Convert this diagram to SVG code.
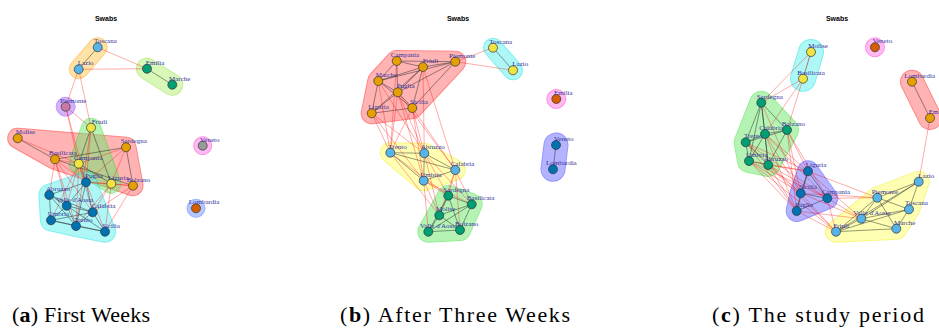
<svg xmlns="http://www.w3.org/2000/svg" width="939" height="329" viewBox="0 0 939 329">
<style>
.h{opacity:.5}
.h *{stroke-linejoin:round;stroke-linecap:round}
.red .o{fill:#ff1010;stroke:#ff1010}.red .i{fill:#ff6a6a;stroke:#ff6a6a}
.org .o{fill:#ffa000;stroke:#ffa000}.org .i{fill:#ffc850;stroke:#ffc850}
.lgr .o{fill:#80e030;stroke:#80e030}.lgr .i{fill:#b4f070;stroke:#b4f070}
.grn .o{fill:#30e030;stroke:#30e030}.grn .i{fill:#6ee86e;stroke:#6ee86e}
.pur .o{fill:#9030ff;stroke:#9030ff}.pur .i{fill:#a868f8;stroke:#a868f8}
.cyn .o{fill:#00e0e0;stroke:#00e0e0}.cyn .i{fill:#5ff0f0;stroke:#5ff0f0}
.pnk .o{fill:#ff20d0;stroke:#ff20d0}.pnk .i{fill:#ff78e6;stroke:#ff78e6}
.blu .o{fill:#3030ff;stroke:#3030ff}.blu .i{fill:#6a6aff;stroke:#6a6aff}
.bla .o{fill:#3a6aff;stroke:#3a6aff}.bla .i{fill:#7090ff;stroke:#7090ff}
.yel .o{fill:#f0f000;stroke:#f0f000}.yel .i{fill:#ffff6a;stroke:#ffff6a}
.k{stroke:#222;stroke-width:.55;opacity:.85}
.r{stroke:#ff0000;stroke-width:.55;opacity:.6}
.dr{stroke:#b02020;stroke-width:.6}
.n{stroke:#333;stroke-width:.7}
.lb{font-family:"Liberation Serif",serif;font-size:7px;fill:#35359a}
.tt{font-family:"Liberation Sans",sans-serif;font-size:7px;font-weight:bold;fill:#000;text-anchor:middle}
.cap{font-family:"Liberation Serif",serif;font-size:22px;fill:#000}
</style>
<rect width="939" height="329" fill="#fff"/>
<text class="tt" x="106" y="21">Swabs</text>
<text class="tt" x="458" y="21">Swabs</text>
<text class="tt" x="837" y="21">Swabs</text>

<g id="hulls">
<g class="h org"><polyline class="o" points="97.7,47.3 78.7,69.3" stroke-width="20"/><polyline class="i" points="97.7,47.3 78.7,69.3" stroke-width="18"/></g>
<g class="h lgr"><polyline class="o" points="147,68.7 172.3,84.7" stroke-width="22"/><polyline class="i" points="147,68.7 172.3,84.7" stroke-width="20"/></g>
<g class="h pur"><circle class="o" cx="65.7" cy="106.7" r="9.5"/><circle class="i" cx="65.7" cy="106.7" r="8.5"/></g>
<g class="h red"><polygon class="o" points="17.7,138.3 126,147.3 133,185.7 55,159.3" stroke-width="21"/><polygon class="i" points="17.7,138.3 126,147.3 133,185.7 55,159.3" stroke-width="19"/></g>
<g class="h grn"><polygon class="o" points="91,127.7 111.3,183.7 78.7,163.7" stroke-width="20"/><polygon class="i" points="91,127.7 111.3,183.7 78.7,163.7" stroke-width="18"/></g>
<g class="h cyn"><polygon class="o" points="86,182.3 105,231.7 76,226 51,220.3 49.3,195" stroke-width="22"/><polygon class="i" points="86,182.3 105,231.7 76,226 51,220.3 49.3,195" stroke-width="20"/></g>
<g class="h pnk"><circle class="o" cx="202.7" cy="145.7" r="9"/><circle class="i" cx="202.7" cy="145.7" r="8"/></g>
<g class="h bla"><circle class="o" cx="196" cy="208.3" r="9"/><circle class="i" cx="196" cy="208.3" r="8"/></g>
<g class="h red"><polygon class="o" points="396.7,61 455.3,61.7 412.3,108 371.7,113.3 378.3,81" stroke-width="22"/><polygon class="i" points="396.7,61 455.3,61.7 412.3,108 371.7,113.3 378.3,81" stroke-width="20"/></g>
<g class="h cyn"><polyline class="o" points="493,47.7 513,70.3" stroke-width="20"/><polyline class="i" points="493,47.7 513,70.3" stroke-width="18"/></g>
<g class="h pnk"><circle class="o" cx="556.3" cy="99" r="9.5"/><circle class="i" cx="556.3" cy="99" r="8.5"/></g>
<g class="h blu"><polyline class="o" points="556,145 553,169.3" stroke-width="25"/><polyline class="i" points="556,145 553,169.3" stroke-width="23"/></g>
<g class="h yel"><polygon class="o" points="390.3,152.7 424.3,153.3 455.3,170 423.7,180.7" stroke-width="21"/><polygon class="i" points="390.3,152.7 424.3,153.3 455.3,170 423.7,180.7" stroke-width="19"/></g>
<g class="h grn"><polygon class="o" points="448.3,195.7 471.7,204.3 460,230 428.3,231.7" stroke-width="22"/><polygon class="i" points="448.3,195.7 471.7,204.3 460,230 428.3,231.7" stroke-width="20"/></g>
<g class="h cyn"><polyline class="o" points="811,52 803,78.7" stroke-width="26"/><polyline class="i" points="811,52 803,78.7" stroke-width="24"/></g>
<g class="h pnk"><circle class="o" cx="875" cy="47.3" r="9.5"/><circle class="i" cx="875" cy="47.3" r="8.5"/></g>
<g class="h red"><polyline class="o" points="912,81.7 930,118" stroke-width="24"/><polyline class="i" points="912,81.7 930,118" stroke-width="22"/></g>
<g class="h grn"><polygon class="o" points="761.3,102.7 787,130 768.3,165 749,161 745.7,142.3" stroke-width="24"/><polygon class="i" points="761.3,102.7 787,130 768.3,165 749,161 745.7,142.3" stroke-width="22"/></g>
<g class="h blu"><polygon class="o" points="808,171.3 827.3,198.3 796.7,211 800.7,193.3" stroke-width="22"/><polygon class="i" points="808,171.3 827.3,198.3 796.7,211 800.7,193.3" stroke-width="20"/></g>
<g class="h yel"><polygon class="o" points="918.7,181.7 909,209.3 896.3,228.7 836,231.7 877.3,197.7" stroke-width="22"/><polygon class="i" points="918.7,181.7 909,209.3 896.3,228.7 836,231.7 877.3,197.7" stroke-width="20"/></g>
</g>

<g id="connectors">
<line class="k" x1="97.7" y1="47.3" x2="78.7" y2="69.3"/>
<line class="k" x1="147" y1="68.7" x2="172.3" y2="84.7"/>
<line class="k" x1="17.7" y1="138.3" x2="55" y2="159.3"/>
<line class="k" x1="55" y1="159.3" x2="126" y2="147.3"/>
<line class="k" x1="55" y1="159.3" x2="133" y2="185.7"/>
<line class="k" x1="126" y1="147.3" x2="133" y2="185.7"/>
<line class="k" x1="91" y1="127.7" x2="78.7" y2="163.7"/>
<line class="k" x1="91" y1="127.7" x2="111.3" y2="183.7"/>
<line class="k" x1="78.7" y1="163.7" x2="111.3" y2="183.7"/>
<line class="k" x1="86" y1="182.3" x2="49.3" y2="195"/>
<line class="k" x1="86" y1="182.3" x2="66.7" y2="205.7"/>
<line class="k" x1="86" y1="182.3" x2="92.7" y2="212.3"/>
<line class="k" x1="86" y1="182.3" x2="76" y2="226"/>
<line class="k" x1="49.3" y1="195" x2="66.7" y2="205.7"/>
<line class="k" x1="49.3" y1="195" x2="51" y2="220.3"/>
<line class="k" x1="49.3" y1="195" x2="76" y2="226"/>
<line class="k" x1="49.3" y1="195" x2="92.7" y2="212.3"/>
<line class="k" x1="66.7" y1="205.7" x2="92.7" y2="212.3"/>
<line class="k" x1="66.7" y1="205.7" x2="51" y2="220.3"/>
<line class="k" x1="66.7" y1="205.7" x2="76" y2="226"/>
<line class="k" x1="66.7" y1="205.7" x2="105" y2="231.7"/>
<line class="k" x1="92.7" y1="212.3" x2="76" y2="226"/>
<line class="k" x1="92.7" y1="212.3" x2="105" y2="231.7"/>
<line class="k" x1="51" y1="220.3" x2="76" y2="226"/>
<line class="k" x1="51" y1="220.3" x2="92.7" y2="212.3"/>
<line class="k" x1="76" y1="226" x2="105" y2="231.7"/>
<line class="k" x1="51" y1="220.3" x2="105" y2="231.7"/>
<line class="r" x1="97.7" y1="47.3" x2="147" y2="68.7"/>
<line class="r" x1="78.7" y1="69.3" x2="147" y2="68.7"/>
<line class="r" x1="78.7" y1="69.3" x2="65.7" y2="106.7"/>
<line class="r" x1="78.7" y1="69.3" x2="91" y2="127.7"/>
<line class="r" x1="65.7" y1="106.7" x2="91" y2="127.7"/>
<line class="r" x1="65.7" y1="106.7" x2="78.7" y2="163.7"/>
<line class="r" x1="65.7" y1="106.7" x2="86" y2="182.3"/>
<line class="r" x1="91" y1="127.7" x2="86" y2="182.3"/>
<line class="r" x1="91" y1="127.7" x2="76" y2="226"/>
<line class="r" x1="17.7" y1="138.3" x2="78.7" y2="163.7"/>
<line class="r" x1="126" y1="147.3" x2="78.7" y2="163.7"/>
<line class="r" x1="126" y1="147.3" x2="86" y2="182.3"/>
<line class="r" x1="126" y1="147.3" x2="111.3" y2="183.7"/>
<line class="r" x1="55" y1="159.3" x2="78.7" y2="163.7"/>
<line class="r" x1="55" y1="159.3" x2="86" y2="182.3"/>
<line class="r" x1="55" y1="159.3" x2="49.3" y2="195"/>
<line class="r" x1="55" y1="159.3" x2="66.7" y2="205.7"/>
<line class="r" x1="55" y1="159.3" x2="92.7" y2="212.3"/>
<line class="r" x1="55" y1="159.3" x2="76" y2="226"/>
<line class="r" x1="78.7" y1="163.7" x2="86" y2="182.3"/>
<line class="r" x1="78.7" y1="163.7" x2="66.7" y2="205.7"/>
<line class="r" x1="78.7" y1="163.7" x2="92.7" y2="212.3"/>
<line class="r" x1="78.7" y1="163.7" x2="76" y2="226"/>
<line class="r" x1="78.7" y1="163.7" x2="105" y2="231.7"/>
<line class="r" x1="78.7" y1="163.7" x2="51" y2="220.3"/>
<line class="r" x1="111.3" y1="183.7" x2="86" y2="182.3"/>
<line class="r" x1="111.3" y1="183.7" x2="92.7" y2="212.3"/>
<line class="r" x1="111.3" y1="183.7" x2="105" y2="231.7"/>
<line class="r" x1="111.3" y1="183.7" x2="76" y2="226"/>
<line class="r" x1="133" y1="185.7" x2="86" y2="182.3"/>
<line class="r" x1="133" y1="185.7" x2="92.7" y2="212.3"/>
<line class="r" x1="133" y1="185.7" x2="105" y2="231.7"/>
<line class="r" x1="133" y1="185.7" x2="111.3" y2="183.7"/>
<line class="k" x1="396.7" y1="61" x2="423" y2="67"/>
<line class="k" x1="396.7" y1="61" x2="455.3" y2="61.7"/>
<line class="k" x1="396.7" y1="61" x2="378.3" y2="81"/>
<line class="k" x1="396.7" y1="61" x2="397.7" y2="92.3"/>
<line class="k" x1="423" y1="67" x2="455.3" y2="61.7"/>
<line class="k" x1="423" y1="67" x2="378.3" y2="81"/>
<line class="k" x1="423" y1="67" x2="397.7" y2="92.3"/>
<line class="k" x1="423" y1="67" x2="412.3" y2="108"/>
<line class="k" x1="423" y1="67" x2="371.7" y2="113.3"/>
<line class="k" x1="455.3" y1="61.7" x2="378.3" y2="81"/>
<line class="k" x1="455.3" y1="61.7" x2="397.7" y2="92.3"/>
<line class="k" x1="455.3" y1="61.7" x2="412.3" y2="108"/>
<line class="k" x1="378.3" y1="81" x2="397.7" y2="92.3"/>
<line class="k" x1="378.3" y1="81" x2="371.7" y2="113.3"/>
<line class="k" x1="378.3" y1="81" x2="412.3" y2="108"/>
<line class="k" x1="397.7" y1="92.3" x2="412.3" y2="108"/>
<line class="k" x1="397.7" y1="92.3" x2="371.7" y2="113.3"/>
<line class="k" x1="371.7" y1="113.3" x2="412.3" y2="108"/>
<line class="k" x1="493" y1="47.7" x2="513" y2="70.3"/>
<line class="k" x1="556" y1="145" x2="553" y2="169.3"/>
<line class="k" x1="390.3" y1="152.7" x2="424.3" y2="153.3"/>
<line class="k" x1="390.3" y1="152.7" x2="455.3" y2="170"/>
<line class="k" x1="390.3" y1="152.7" x2="423.7" y2="180.7"/>
<line class="k" x1="424.3" y1="153.3" x2="455.3" y2="170"/>
<line class="k" x1="424.3" y1="153.3" x2="423.7" y2="180.7"/>
<line class="k" x1="423.7" y1="180.7" x2="455.3" y2="170"/>
<line class="k" x1="448.3" y1="195.7" x2="471.7" y2="204.3"/>
<line class="k" x1="448.3" y1="195.7" x2="439.3" y2="215.3"/>
<line class="k" x1="448.3" y1="195.7" x2="428.3" y2="231.7"/>
<line class="k" x1="448.3" y1="195.7" x2="460" y2="230"/>
<line class="k" x1="471.7" y1="204.3" x2="439.3" y2="215.3"/>
<line class="k" x1="471.7" y1="204.3" x2="460" y2="230"/>
<line class="k" x1="471.7" y1="204.3" x2="428.3" y2="231.7"/>
<line class="k" x1="439.3" y1="215.3" x2="428.3" y2="231.7"/>
<line class="k" x1="439.3" y1="215.3" x2="460" y2="230"/>
<line class="k" x1="428.3" y1="231.7" x2="460" y2="230"/>
<line class="r" x1="455.3" y1="61.7" x2="493" y2="47.7"/>
<line class="r" x1="455.3" y1="61.7" x2="513" y2="70.3"/>
<line class="r" x1="371.7" y1="113.3" x2="390.3" y2="152.7"/>
<line class="r" x1="371.7" y1="113.3" x2="424.3" y2="153.3"/>
<line class="r" x1="371.7" y1="113.3" x2="423.7" y2="180.7"/>
<line class="r" x1="378.3" y1="81" x2="390.3" y2="152.7"/>
<line class="r" x1="378.3" y1="81" x2="424.3" y2="153.3"/>
<line class="r" x1="397.7" y1="92.3" x2="390.3" y2="152.7"/>
<line class="r" x1="397.7" y1="92.3" x2="424.3" y2="153.3"/>
<line class="r" x1="397.7" y1="92.3" x2="455.3" y2="170"/>
<line class="r" x1="397.7" y1="92.3" x2="423.7" y2="180.7"/>
<line class="r" x1="412.3" y1="108" x2="390.3" y2="152.7"/>
<line class="r" x1="412.3" y1="108" x2="424.3" y2="153.3"/>
<line class="r" x1="412.3" y1="108" x2="455.3" y2="170"/>
<line class="r" x1="412.3" y1="108" x2="423.7" y2="180.7"/>
<line class="r" x1="423" y1="67" x2="424.3" y2="153.3"/>
<line class="r" x1="423" y1="67" x2="455.3" y2="170"/>
<line class="r" x1="396.7" y1="61" x2="390.3" y2="152.7"/>
<line class="r" x1="390.3" y1="152.7" x2="448.3" y2="195.7"/>
<line class="r" x1="390.3" y1="152.7" x2="439.3" y2="215.3"/>
<line class="r" x1="424.3" y1="153.3" x2="448.3" y2="195.7"/>
<line class="r" x1="424.3" y1="153.3" x2="471.7" y2="204.3"/>
<line class="r" x1="424.3" y1="153.3" x2="439.3" y2="215.3"/>
<line class="r" x1="455.3" y1="170" x2="448.3" y2="195.7"/>
<line class="r" x1="455.3" y1="170" x2="471.7" y2="204.3"/>
<line class="r" x1="455.3" y1="170" x2="460" y2="230"/>
<line class="r" x1="455.3" y1="170" x2="439.3" y2="215.3"/>
<line class="r" x1="423.7" y1="180.7" x2="448.3" y2="195.7"/>
<line class="r" x1="423.7" y1="180.7" x2="439.3" y2="215.3"/>
<line class="r" x1="423.7" y1="180.7" x2="428.3" y2="231.7"/>
<line class="r" x1="423.7" y1="180.7" x2="471.7" y2="204.3"/>
<line class="k" x1="912" y1="81.7" x2="930" y2="118"/>
<line class="k" x1="761.3" y1="102.7" x2="765" y2="134"/>
<line class="k" x1="761.3" y1="102.7" x2="745.7" y2="142.3"/>
<line class="k" x1="761.3" y1="102.7" x2="749" y2="161"/>
<line class="k" x1="761.3" y1="102.7" x2="768.3" y2="165"/>
<line class="k" x1="761.3" y1="102.7" x2="787" y2="130"/>
<line class="k" x1="765" y1="134" x2="745.7" y2="142.3"/>
<line class="k" x1="765" y1="134" x2="787" y2="130"/>
<line class="k" x1="765" y1="134" x2="749" y2="161"/>
<line class="k" x1="765" y1="134" x2="768.3" y2="165"/>
<line class="k" x1="745.7" y1="142.3" x2="749" y2="161"/>
<line class="k" x1="745.7" y1="142.3" x2="768.3" y2="165"/>
<line class="k" x1="749" y1="161" x2="768.3" y2="165"/>
<line class="k" x1="787" y1="130" x2="745.7" y2="142.3"/>
<line class="k" x1="787" y1="130" x2="768.3" y2="165"/>
<line class="k" x1="808" y1="171.3" x2="800.7" y2="193.3"/>
<line class="k" x1="808" y1="171.3" x2="827.3" y2="198.3"/>
<line class="k" x1="808" y1="171.3" x2="796.7" y2="211"/>
<line class="k" x1="800.7" y1="193.3" x2="827.3" y2="198.3"/>
<line class="k" x1="800.7" y1="193.3" x2="796.7" y2="211"/>
<line class="k" x1="827.3" y1="198.3" x2="796.7" y2="211"/>
<line class="k" x1="918.7" y1="181.7" x2="877.3" y2="197.7"/>
<line class="k" x1="918.7" y1="181.7" x2="909" y2="209.3"/>
<line class="k" x1="918.7" y1="181.7" x2="861.3" y2="218.7"/>
<line class="k" x1="918.7" y1="181.7" x2="836" y2="231.7"/>
<line class="k" x1="877.3" y1="197.7" x2="909" y2="209.3"/>
<line class="k" x1="877.3" y1="197.7" x2="861.3" y2="218.7"/>
<line class="k" x1="877.3" y1="197.7" x2="836" y2="231.7"/>
<line class="k" x1="877.3" y1="197.7" x2="896.3" y2="228.7"/>
<line class="k" x1="909" y1="209.3" x2="861.3" y2="218.7"/>
<line class="k" x1="909" y1="209.3" x2="896.3" y2="228.7"/>
<line class="k" x1="909" y1="209.3" x2="836" y2="231.7"/>
<line class="k" x1="861.3" y1="218.7" x2="896.3" y2="228.7"/>
<line class="k" x1="861.3" y1="218.7" x2="836" y2="231.7"/>
<line class="k" x1="836" y1="231.7" x2="896.3" y2="228.7"/>
<line class="dr" x1="811" y1="52" x2="803" y2="78.7"/>
<line class="r" x1="803" y1="78.7" x2="761.3" y2="102.7"/>
<line class="r" x1="811" y1="52" x2="761.3" y2="102.7"/>
<line class="r" x1="803" y1="78.7" x2="765" y2="134"/>
<line class="r" x1="803" y1="78.7" x2="787" y2="130"/>
<line class="r" x1="930" y1="118" x2="918.7" y2="181.7"/>
<line class="r" x1="765" y1="134" x2="808" y2="171.3"/>
<line class="r" x1="765" y1="134" x2="800.7" y2="193.3"/>
<line class="r" x1="765" y1="134" x2="827.3" y2="198.3"/>
<line class="r" x1="765" y1="134" x2="796.7" y2="211"/>
<line class="r" x1="787" y1="130" x2="808" y2="171.3"/>
<line class="r" x1="787" y1="130" x2="800.7" y2="193.3"/>
<line class="r" x1="787" y1="130" x2="827.3" y2="198.3"/>
<line class="r" x1="787" y1="130" x2="796.7" y2="211"/>
<line class="r" x1="745.7" y1="142.3" x2="808" y2="171.3"/>
<line class="r" x1="745.7" y1="142.3" x2="800.7" y2="193.3"/>
<line class="r" x1="745.7" y1="142.3" x2="827.3" y2="198.3"/>
<line class="r" x1="745.7" y1="142.3" x2="796.7" y2="211"/>
<line class="r" x1="749" y1="161" x2="808" y2="171.3"/>
<line class="r" x1="749" y1="161" x2="800.7" y2="193.3"/>
<line class="r" x1="749" y1="161" x2="827.3" y2="198.3"/>
<line class="r" x1="749" y1="161" x2="796.7" y2="211"/>
<line class="r" x1="768.3" y1="165" x2="808" y2="171.3"/>
<line class="r" x1="768.3" y1="165" x2="800.7" y2="193.3"/>
<line class="r" x1="768.3" y1="165" x2="827.3" y2="198.3"/>
<line class="r" x1="768.3" y1="165" x2="796.7" y2="211"/>
<line class="r" x1="761.3" y1="102.7" x2="800.7" y2="193.3"/>
<line class="r" x1="768.3" y1="165" x2="836" y2="231.7"/>
<line class="r" x1="749" y1="161" x2="836" y2="231.7"/>
<line class="r" x1="827.3" y1="198.3" x2="877.3" y2="197.7"/>
<line class="r" x1="827.3" y1="198.3" x2="861.3" y2="218.7"/>
<line class="r" x1="827.3" y1="198.3" x2="836" y2="231.7"/>
<line class="r" x1="800.7" y1="193.3" x2="836" y2="231.7"/>
<line class="r" x1="796.7" y1="211" x2="836" y2="231.7"/>
<line class="r" x1="808" y1="171.3" x2="877.3" y2="197.7"/>
<line class="r" x1="800.7" y1="193.3" x2="861.3" y2="218.7"/>
<line class="r" x1="796.7" y1="211" x2="861.3" y2="218.7"/>
<line class="r" x1="808" y1="171.3" x2="861.3" y2="218.7"/>
<line class="r" x1="800.7" y1="193.3" x2="877.3" y2="197.7"/>
</g>

<g id="a-toscana"><circle class="n" cx="97.7" cy="47.3" r="4.5" fill="#56B4E9"/><text class="lb" x="94" y="43">Toscana</text></g>
<g id="a-lazio"><circle class="n" cx="78.7" cy="69.3" r="4.5" fill="#56B4E9"/><text class="lb" x="77.7" y="65">Lazio</text></g>
<g id="a-emilia"><circle class="n" cx="147" cy="68.7" r="4.5" fill="#009E73"/><text class="lb" x="145.7" y="64.7">Emilia</text></g>
<g id="a-marche"><circle class="n" cx="172.3" cy="84.7" r="4.5" fill="#009E73"/><text class="lb" x="169" y="80.7">Marche</text></g>
<g id="a-piemonte"><circle class="n" cx="65.7" cy="106.7" r="4.5" fill="#CC79A7"/><text class="lb" x="60" y="102.7">Piemonte</text></g>
<g id="a-friuli"><circle class="n" cx="91" cy="127.7" r="4.5" fill="#F0E442"/><text class="lb" x="91.7" y="123.7">Friuli</text></g>
<g id="a-molise"><circle class="n" cx="17.7" cy="138.3" r="4.5" fill="#E69F00"/><text class="lb" x="15.7" y="134.3">Molise</text></g>
<g id="a-sardegna"><circle class="n" cx="126" cy="147.3" r="4.5" fill="#E69F00"/><text class="lb" x="120.7" y="143.3">Sardegna</text></g>
<g id="a-basilicata"><circle class="n" cx="55" cy="159.3" r="4.5" fill="#E69F00"/><text class="lb" x="49" y="155.3">Basilicata</text></g>
<g id="a-campania"><circle class="n" cx="78.7" cy="163.7" r="4.5" fill="#F0E442"/><text class="lb" x="74" y="159.7">Campania</text></g>
<g id="a-puglia"><circle class="n" cx="86" cy="182.3" r="4.5" fill="#0072B2"/><text class="lb" x="85" y="178.3">Puglia</text></g>
<g id="a-liguria"><circle class="n" cx="111.3" cy="183.7" r="4.5" fill="#F0E442"/><text class="lb" x="108" y="179.7">Liguria</text></g>
<g id="a-bolzano"><circle class="n" cx="133" cy="185.7" r="4.5" fill="#E69F00"/><text class="lb" x="126.7" y="181.7">Bolzano</text></g>
<g id="a-abruzzo"><circle class="n" cx="49.3" cy="195" r="4.5" fill="#0072B2"/><text class="lb" x="46" y="191">Abruzzo</text></g>
<g id="a-valledaosta"><circle class="n" cx="66.7" cy="205.7" r="4.5" fill="#0072B2"/><text class="lb" x="56" y="201.7">Valle d'Aosta</text></g>
<g id="a-calabria"><circle class="n" cx="92.7" cy="212.3" r="4.5" fill="#0072B2"/><text class="lb" x="91.7" y="208.3">Calabria</text></g>
<g id="a-umbria"><circle class="n" cx="51" cy="220.3" r="4.5" fill="#0072B2"/><text class="lb" x="47.7" y="216.3">Umbria</text></g>
<g id="a-trento"><circle class="n" cx="76" cy="226" r="4.5" fill="#0072B2"/><text class="lb" x="74" y="222">Trento</text></g>
<g id="a-sicilia"><circle class="n" cx="105" cy="231.7" r="4.5" fill="#0072B2"/><text class="lb" x="102" y="227.7">Sicilia</text></g>
<g id="a-veneto"><circle class="n" cx="202.7" cy="145.7" r="4.5" fill="#999999"/><text class="lb" x="200" y="141.7">Veneto</text></g>
<g id="a-lombardia"><circle class="n" cx="196" cy="208.3" r="4.5" fill="#D55E00"/><text class="lb" x="188.7" y="204.3">Lombardia</text></g>

<g id="b-campania"><circle class="n" cx="396.7" cy="61" r="4.5" fill="#E69F00"/><text class="lb" x="390.7" y="57">Campania</text></g>
<g id="b-friuli"><circle class="n" cx="423" cy="67" r="4.5" fill="#E69F00"/><text class="lb" x="422.7" y="63">Friuli</text></g>
<g id="b-piemonte"><circle class="n" cx="455.3" cy="61.7" r="4.5" fill="#E69F00"/><text class="lb" x="449" y="57.7">Piemonte</text></g>
<g id="b-marche"><circle class="n" cx="378.3" cy="81" r="4.5" fill="#E69F00"/><text class="lb" x="375.7" y="77">Marche</text></g>
<g id="b-puglia"><circle class="n" cx="397.7" cy="92.3" r="4.5" fill="#E69F00"/><text class="lb" x="396.7" y="88.3">Puglia</text></g>
<g id="b-sicilia"><circle class="n" cx="412.3" cy="108" r="4.5" fill="#E69F00"/><text class="lb" x="410" y="104">Sicilia</text></g>
<g id="b-liguria"><circle class="n" cx="371.7" cy="113.3" r="4.5" fill="#E69F00"/><text class="lb" x="368.3" y="109.3">Liguria</text></g>
<g id="b-toscana"><circle class="n" cx="493" cy="47.7" r="4.5" fill="#F0E442"/><text class="lb" x="489.3" y="43.7">Toscana</text></g>
<g id="b-lazio"><circle class="n" cx="513" cy="70.3" r="4.5" fill="#F0E442"/><text class="lb" x="512.3" y="66.3">Lazio</text></g>
<g id="b-emilia"><circle class="n" cx="556.3" cy="99" r="4.5" fill="#D55E00"/><text class="lb" x="554" y="95">Emilia</text></g>
<g id="b-veneto"><circle class="n" cx="556" cy="145" r="4.5" fill="#0072B2"/><text class="lb" x="554" y="141">Veneto</text></g>
<g id="b-lombardia"><circle class="n" cx="553" cy="169.3" r="4.5" fill="#0072B2"/><text class="lb" x="546" y="165.3">Lombardia</text></g>
<g id="b-trento"><circle class="n" cx="390.3" cy="152.7" r="4.5" fill="#56B4E9"/><text class="lb" x="388.3" y="148.7">Trento</text></g>
<g id="b-abruzzo"><circle class="n" cx="424.3" cy="153.3" r="4.5" fill="#56B4E9"/><text class="lb" x="420.7" y="149.3">Abruzzo</text></g>
<g id="b-calabria"><circle class="n" cx="455.3" cy="170" r="4.5" fill="#56B4E9"/><text class="lb" x="450.7" y="166">Calabria</text></g>
<g id="b-umbria"><circle class="n" cx="423.7" cy="180.7" r="4.5" fill="#56B4E9"/><text class="lb" x="420.3" y="176.7">Umbria</text></g>
<g id="b-sardegna"><circle class="n" cx="448.3" cy="195.7" r="4.5" fill="#009E73"/><text class="lb" x="443.3" y="191.7">Sardegna</text></g>
<g id="b-basilicata"><circle class="n" cx="471.7" cy="204.3" r="4.5" fill="#009E73"/><text class="lb" x="466.7" y="200.3">Basilicata</text></g>
<g id="b-molise"><circle class="n" cx="439.3" cy="215.3" r="4.5" fill="#009E73"/><text class="lb" x="436" y="211.3">Molise</text></g>
<g id="b-valledaosta"><circle class="n" cx="428.3" cy="231.7" r="4.5" fill="#009E73"/><text class="lb" x="420" y="227.7">Valle d'Aosta</text></g>
<g id="b-bolzano"><circle class="n" cx="460" cy="230" r="4.5" fill="#009E73"/><text class="lb" x="455" y="226">Bolzano</text></g>

<g id="c-molise"><circle class="n" cx="811" cy="52" r="4.5" fill="#F0E442"/><text class="lb" x="808.3" y="48">Molise</text></g>
<g id="c-basilicata"><circle class="n" cx="803" cy="78.7" r="4.5" fill="#F0E442"/><text class="lb" x="797.3" y="74.7">Basilicata</text></g>
<g id="c-veneto"><circle class="n" cx="875" cy="47.3" r="4.5" fill="#D55E00"/><text class="lb" x="872.7" y="43.3">Veneto</text></g>
<g id="c-lombardia"><circle class="n" cx="912" cy="81.7" r="4.5" fill="#E69F00"/><text class="lb" x="904.3" y="77.7">Lombardia</text></g>
<g id="c-emilia"><circle class="n" cx="930" cy="118" r="4.5" fill="#E69F00"/><text class="lb" x="928.7" y="114">Emilia</text></g>
<g id="c-sardegna"><circle class="n" cx="761.3" cy="102.7" r="4.5" fill="#009E73"/><text class="lb" x="756.7" y="98.7">Sardegna</text></g>
<g id="c-calabria"><circle class="n" cx="765" cy="134" r="4.5" fill="#009E73"/><text class="lb" x="759.3" y="130">Calabria</text></g>
<g id="c-bolzano"><circle class="n" cx="787" cy="130" r="4.5" fill="#009E73"/><text class="lb" x="781.7" y="126">Bolzano</text></g>
<g id="c-trento"><circle class="n" cx="745.7" cy="142.3" r="4.5" fill="#009E73"/><text class="lb" x="744" y="138.3">Trento</text></g>
<g id="c-umbria"><circle class="n" cx="749" cy="161" r="4.5" fill="#009E73"/><text class="lb" x="746" y="157">Umbria</text></g>
<g id="c-abruzzo"><circle class="n" cx="768.3" cy="165" r="4.5" fill="#009E73"/><text class="lb" x="764" y="161">Abruzzo</text></g>
<g id="c-liguria"><circle class="n" cx="808" cy="171.3" r="4.5" fill="#0072B2"/><text class="lb" x="805.7" y="167.3">Liguria</text></g>
<g id="c-sicilia"><circle class="n" cx="800.7" cy="193.3" r="4.5" fill="#0072B2"/><text class="lb" x="799" y="189.3">Sicilia</text></g>
<g id="c-campania"><circle class="n" cx="827.3" cy="198.3" r="4.5" fill="#0072B2"/><text class="lb" x="821.7" y="194.3">Campania</text></g>
<g id="c-puglia"><circle class="n" cx="796.7" cy="211" r="4.5" fill="#0072B2"/><text class="lb" x="795" y="207">Puglia</text></g>
<g id="c-lazio"><circle class="n" cx="918.7" cy="181.7" r="4.5" fill="#56B4E9"/><text class="lb" x="918.3" y="177.7">Lazio</text></g>
<g id="c-piemonte"><circle class="n" cx="877.3" cy="197.7" r="4.5" fill="#56B4E9"/><text class="lb" x="871.7" y="193.7">Piemonte</text></g>
<g id="c-toscana"><circle class="n" cx="909" cy="209.3" r="4.5" fill="#56B4E9"/><text class="lb" x="905" y="205.3">Toscana</text></g>
<g id="c-valledaosta"><circle class="n" cx="861.3" cy="218.7" r="4.5" fill="#56B4E9"/><text class="lb" x="853.3" y="214.7">Valle d'Aosta</text></g>
<g id="c-marche"><circle class="n" cx="896.3" cy="228.7" r="4.5" fill="#56B4E9"/><text class="lb" x="894" y="224.7">Marche</text></g>
<g id="c-friuli"><circle class="n" cx="836" cy="231.7" r="4.5" fill="#56B4E9"/><text class="lb" x="833.3" y="227.7">Friuli</text></g>

<text class="cap" x="12" y="322" textLength="138">(<tspan font-weight="bold">a</tspan>) First Weeks</text>
<text class="cap" x="340" y="322" textLength="230">(<tspan font-weight="bold">b</tspan>) After Three Weeks</text>
<text class="cap" x="712" y="322" textLength="212">(<tspan font-weight="bold">c</tspan>) The study period</text>
</svg>
